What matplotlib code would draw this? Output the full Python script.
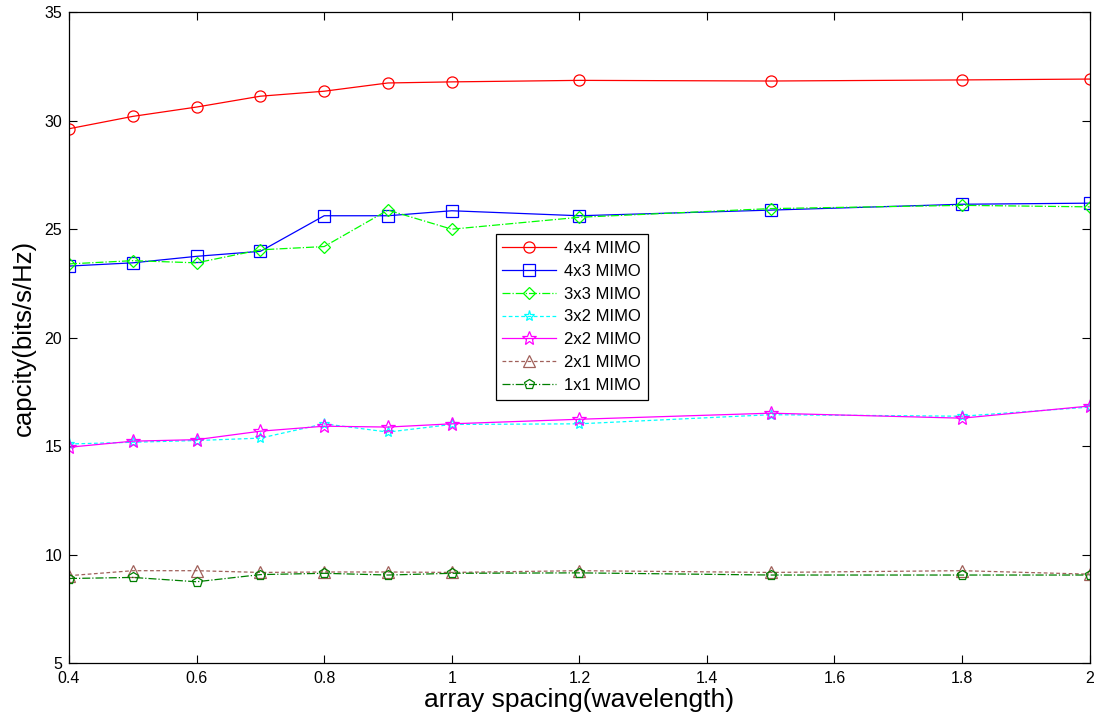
import matplotlib
matplotlib.use('Agg')
import matplotlib.pyplot as plt

plt.rcParams['font.family'] = ['Liberation Sans', 'DejaVu Sans']

spacing = [0.4, 0.5, 0.6, 0.7, 0.8, 0.9, 1.0, 1.2, 1.5, 1.8, 2.0]

mimo_4x4 = [29.63, 30.2, 30.63, 31.13, 31.36, 31.74, 31.79, 31.86, 31.83, 31.88, 31.92]
mimo_4x3 = [23.3, 23.45, 23.75, 23.98, 25.62, 25.62, 25.85, 25.62, 25.88, 26.15, 26.2]
mimo_3x3 = [23.4, 23.55, 23.45, 24.05, 24.2, 25.88, 25.0, 25.55, 25.95, 26.1, 26.03]
mimo_3x2 = [15.1, 15.18, 15.26, 15.37, 16.03, 15.65, 16.0, 16.03, 16.45, 16.38, 16.8]
mimo_2x2 = [14.95, 15.23, 15.3, 15.69, 15.92, 15.88, 16.03, 16.24, 16.52, 16.29, 16.85]
mimo_2x1 = [9.03, 9.26, 9.26, 9.18, 9.2, 9.2, 9.18, 9.26, 9.18, 9.26, 9.1]
mimo_1x1 = [8.9, 8.95, 8.75, 9.08, 9.14, 9.06, 9.14, 9.16, 9.06, 9.06, 9.06]

labels = ['4x4 MIMO', '4x3 MIMO', '3x3 MIMO', '3x2 MIMO', '2x2 MIMO', '2x1 MIMO', '1x1 MIMO']

fig = plt.figure(figsize=(11.04, 7.2), dpi=100)
ax = fig.add_axes([0.0625, 0.079, 0.9245, 0.904])

lw = 0.9
ax.plot(spacing, mimo_4x4, '-', color='#ff0000', lw=lw, marker='o', ms=8, mfc='none', mew=0.9, label=labels[0])
ax.plot(spacing, mimo_4x3, '-', color='#0000ff', lw=lw, marker='s', ms=8, mfc='none', mew=0.9, label=labels[1])
ax.plot(spacing, mimo_3x3, '-.', color='#00ff00', lw=lw, marker='D', ms=6.5, mfc='none', mew=0.9, label=labels[2])
ax.plot(spacing, mimo_3x2, '--', color='#00ffff', lw=lw, marker='*', ms=8, mfc='none', mew=0.9, dashes=(3, 2), label=labels[3])
ax.plot(spacing, mimo_2x2, '-', color='#ff00ff', lw=lw, marker='*', ms=10, mfc='none', mew=0.9, label=labels[4])
ax.plot(spacing, mimo_2x1, '--', color='#a0605a', lw=lw, marker='^', ms=8, mfc='none', mew=0.9, dashes=(3, 2), label=labels[5])
ax.plot(spacing, mimo_1x1, '-.', color='#007f00', lw=lw, marker='p', ms=7, mfc='none', mew=0.9, label=labels[6])

ax.set_xlim(0.4, 2.0)
ax.set_ylim(5, 35)
ax.set_xticks([0.4, 0.6, 0.8, 1.0, 1.2, 1.4, 1.6, 1.8, 2.0])
ax.set_xticklabels(['0.4', '0.6', '0.8', '1', '1.2', '1.4', '1.6', '1.8', '2'])
ax.set_yticks([5, 10, 15, 20, 25, 30, 35])
ax.tick_params(direction='in', top=True, right=True, length=6, labelsize=11.5)
ax.tick_params(axis='x', pad=6)
ax.tick_params(axis='y', pad=5)
for s in ax.spines.values():
    s.set_linewidth(0.9)

ax.set_xlabel('array spacing(wavelength)', fontsize=19, labelpad=1)
ax.set_ylabel('capcity(bits/s/Hz)', fontsize=18.5, labelpad=6)

leg = ax.legend(loc='upper left', bbox_to_anchor=(0.418, 0.659), fontsize=12,
                fancybox=False, edgecolor='black', framealpha=1, handlelength=3.2,
                borderpad=0.4, labelspacing=0.47, handletextpad=0.5, borderaxespad=0)
leg.get_frame().set_linewidth(0.9)

fig.savefig('out.png', dpi=100)
